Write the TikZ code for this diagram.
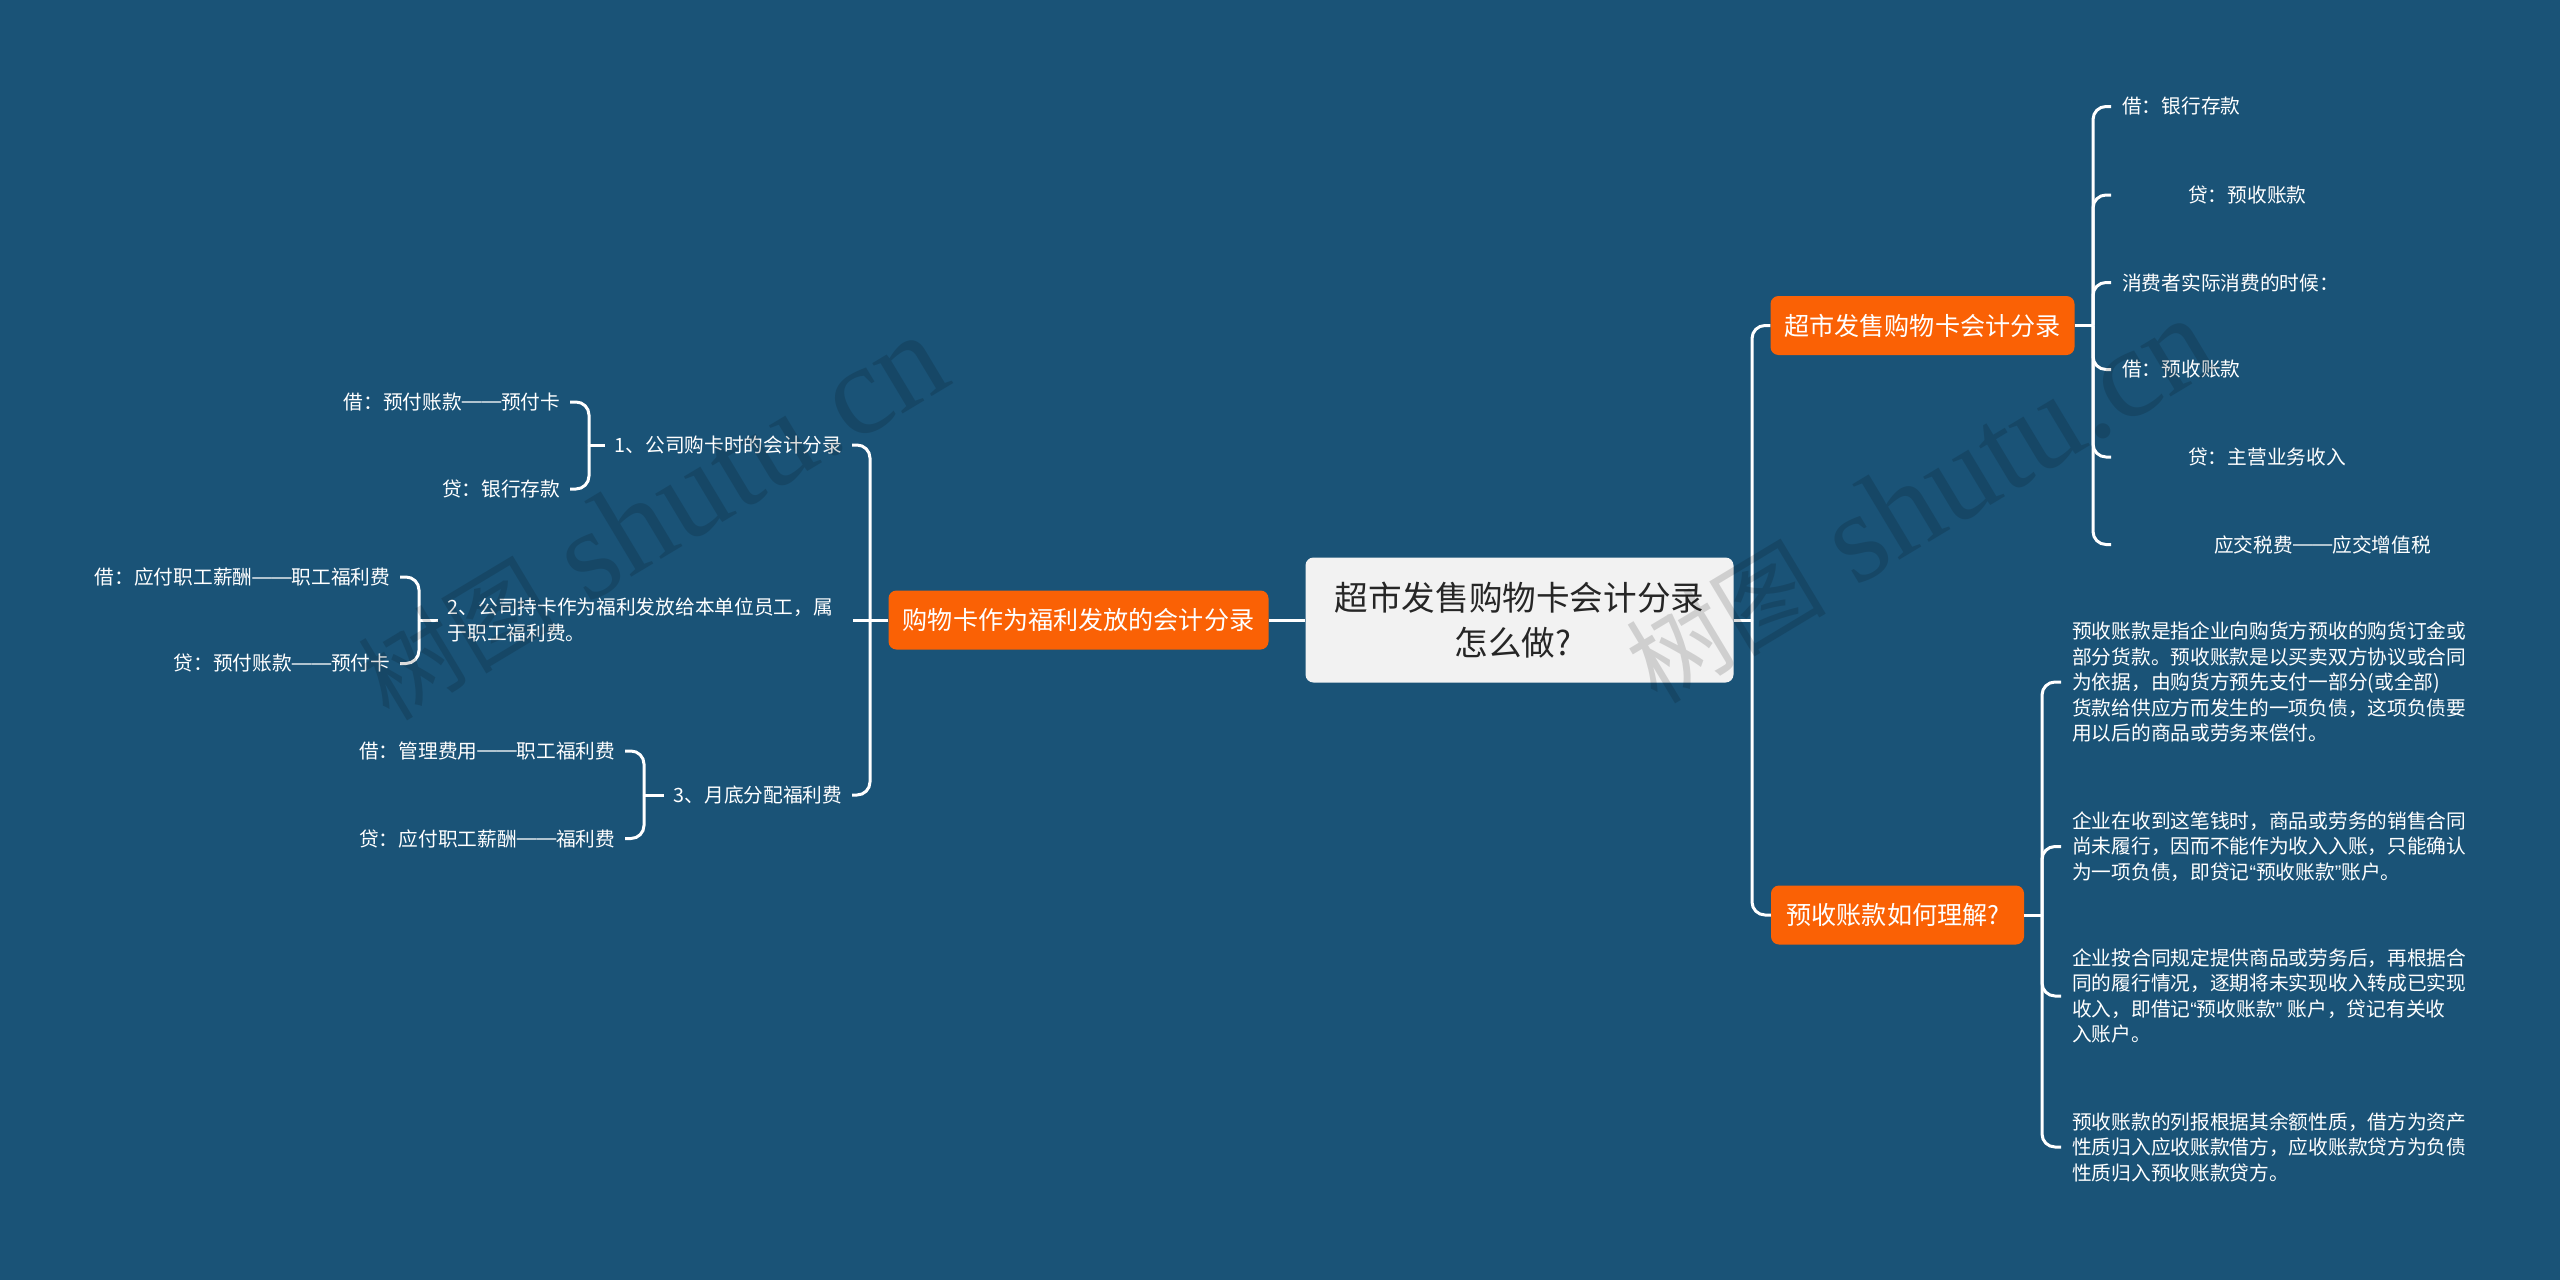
\documentclass[tikz,border=0pt]{standalone}
\usepackage{fontspec}
\setmainfont{Noto Sans CJK SC}
\newfontfamily\markfont{Liberation Serif}
\newfontfamily\punctfont{Liberation Sans}
\newcommand{\longdash}{\raisebox{1.5pt}{\punctfont ——}}
\newcommand{\marktext}{树图\hspace{30pt}{\markfont\fontsize{128}{130}\selectfont shutu.cn}}
\definecolor{pagebg}{HTML}{1A5377}
\definecolor{branchfill}{HTML}{FA6105}
\definecolor{rootfill}{HTML}{F2F2F2}
\begin{document}
\begin{tikzpicture}[x=1pt,y=-1pt]
	\tikzstyle{every node}=[font=\fontsize{19.7}{25.5}\selectfont, text=white, inner sep=0pt]
	\tikzstyle{rootbox}=[fill=rootfill, text=black!85, rounded corners=8pt, minimum width=428pt, minimum height=125pt, align=center, font=\fontsize{33.6}{45}\selectfont]
	\tikzstyle{branchbox}=[fill=branchfill, rounded corners=8pt, minimum height=59pt, font=\fontsize{25.1}{32}\selectfont]
	\tikzstyle{rightleaf}=[anchor=west, inner xsep=11pt, align=left]
	\tikzstyle{leftleaf}=[anchor=east, inner xsep=9.5pt, align=left]
	\tikzstyle{link}=[draw=white, line width=3pt, rounded corners=13pt]
	\tikzstyle{watermark}=[rotate=31, text=black, text opacity=0.14, font=\fontsize{100}{130}\selectfont]
	
	\useasboundingbox (0,0) rectangle (2560,1280);
	\fill [pagebg] (0,0) rectangle (2560,1280);
	
	\node [rootbox] (root) at (1519.5,620) {超市发售购物卡会计分录\\怎么做?\hspace*{13pt}};
	\node [branchbox, minimum width=304pt] (sale) at (1922.5,325.5) {超市发售购物卡会计分录};
	\node [branchbox, minimum width=253pt] (prepaid) at (1897.5,915) {预收账款如何理解?\hspace*{9pt}};
	\node [branchbox, minimum width=380pt] (welfare) at (1078.5,620) {购物卡作为福利发放的会计分录};
	
	\node [rightleaf] (sale1) at (2111,106.5) {借：银行存款};
	\node [rightleaf] (sale2) at (2111,195) {\hspace*{66pt}贷：预收账款};
	\node [rightleaf] (sale3) at (2111,282.5) {消费者实际消费的时候：};
	\node [rightleaf] (sale4) at (2111,369.5) {借：预收账款};
	\node [rightleaf] (sale5) at (2111,457) {\hspace*{66pt}贷：主营业务收入};
	\node [rightleaf] (sale6) at (2111,544.5) {\hspace*{92pt}应交税费\longdash 应交增值税};
	
	\node [rightleaf] (note1) at (2061,682) {预收账款是指企业向购货方预收的购货订金或\\部分货款。预收账款是以买卖双方协议或合同\\为依据，由购货方预先支付一部分(或全部)\\货款给供应方而发生的一项负债，这项负债要\\用以后的商品或劳务来偿付。};
	\node [rightleaf] (note2) at (2061,846.5) {企业在收到这笔钱时，商品或劳务的销售合同\\尚未履行，因而不能作为收入入账，只能确认\\为一项负债，即贷记{\punctfont “}预收账款{\punctfont ”}账户。};
	\node [rightleaf] (note3) at (2061,996) {企业按合同规定提供商品或劳务后，再根据合\\同的履行情况，逐期将未实现收入转成已实现\\收入，即借记{\punctfont “}预收账款{\punctfont ” }账户，贷记有关收\\入账户。};
	\node [rightleaf] (note4) at (2061,1147) {预收账款的列报根据其余额性质，借方为资产\\性质归入应收账款借方，应收账款贷方为负债\\性质归入预收账款贷方。};
	
	\node [leftleaf] (buy) at (852,445) {1、公司购卡时的会计分录};
	\node [leftleaf, anchor=west, text width=396pt] (grant) at (438,620) {2、公司持卡作为福利发放给本单位员工，属\\于职工福利费。};
	\node [leftleaf] (month) at (852,795) {3、月底分配福利费};
	
	\node [leftleaf] (buy1) at (570,402) {借：预付账款\longdash 预付卡};
	\node [leftleaf] (buy2) at (570,489) {贷：银行存款};
	\node [leftleaf] (grant1) at (400,577) {借：应付职工薪酬\longdash 职工福利费};
	\node [leftleaf] (grant2) at (400,663.5) {贷：预付账款\longdash 预付卡};
	\node [leftleaf] (month1) at (625,751) {借：管理费用\longdash 职工福利费};
	\node [leftleaf] (month2) at (625,838.5) {贷：应付职工薪酬\longdash 福利费};
	
	\coordinate (rightbar) at (1752,620);
	\coordinate (salebar) at (2093,325.5);
	\coordinate (prepaidbar) at (2042,915);
	\coordinate (leftbar) at (870,620);
	\coordinate (buybar) at (589,445);
	\coordinate (grantbar) at (419,620);
	\coordinate (monthbar) at (644,795);
	
	\draw [link] (root.east) -- (rightbar);
	\draw [link] (rightbar) |- (sale.west);
	\draw [link] (rightbar) |- (prepaid.west);
	\draw [link] (root.west) -- (welfare.east);
	
	\draw [link] (sale.east) -- (salebar);
	\foreach \leaf in {sale1,sale2,sale3,sale4,sale5,sale6}
		\draw [link] (salebar) |- (\leaf.west);
	
	\draw [link] (prepaid.east) -- (prepaidbar);
	\foreach \leaf in {note1,note2,note3,note4}
		\draw [link] (prepaidbar) |- (\leaf.west);
	
	\draw [link] (welfare.west) -- (leftbar);
	\draw [link] (leftbar) |- (buy.east);
	\draw [link] (leftbar) -- (grant.east);
	\draw [link] (leftbar) |- (month.east);
	
	\draw [link] (buy.west) -- (buybar);
	\draw [link] (buybar) |- (buy1.east);
	\draw [link] (buybar) |- (buy2.east);
	
	\draw [link] (grant.west) -- (grantbar);
	\draw [link] (grantbar) |- (grant1.east);
	\draw [link] (grantbar) |- (grant2.east);
	
	\draw [link] (month.west) -- (monthbar);
	\draw [link] (monthbar) |- (month1.east);
	\draw [link] (monthbar) |- (month2.east);
	
	\node [watermark] (mark1) at (652,518) {\marktext};
	\node [watermark] (mark2) at (1920,501) {\marktext};
	
\end{tikzpicture}
\end{document}
